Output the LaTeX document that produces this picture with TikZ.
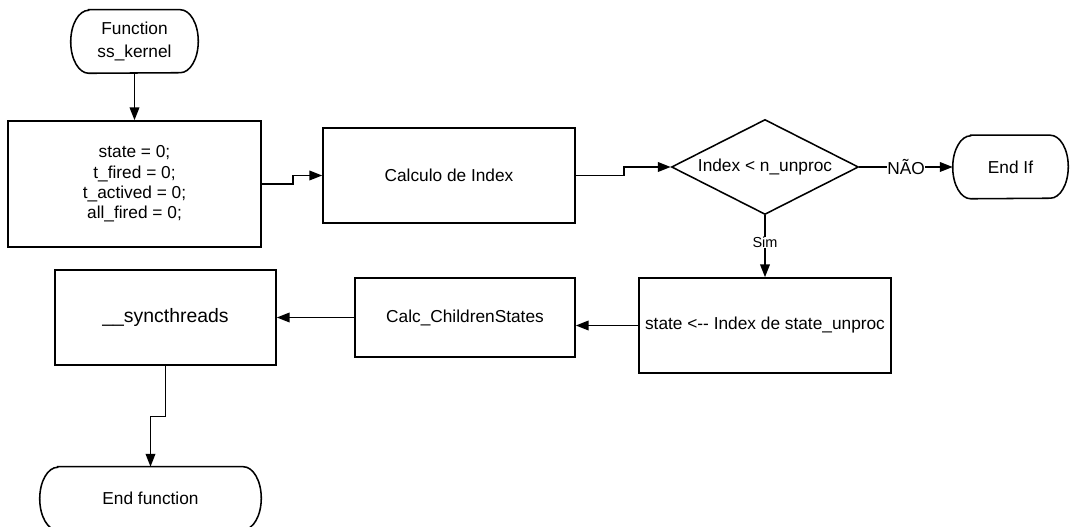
\documentclass[tikz,border=0pt]{standalone}
\usepackage{fontspec}
\setmainfont{Liberation Sans}
\usetikzlibrary{shapes.geometric,arrows.meta}

\tikzstyle{boxed}=[rectangle, draw=black, line width=1.1pt, inner sep=2pt, align=center]
\tikzstyle{decision}=[diamond, draw=black, line width=1.1pt, aspect=1.97, inner sep=0pt, minimum width=4.675cm, minimum height=2.375cm]
\tikzstyle{terminal}=[rectangle, minimum height=1.575cm, align=center]
\tikzstyle{flow}=[line width=1.1pt]
\tikzstyle{answer}=[fill=white, inner sep=0.4pt]

\newcommand{\termline}[1]{%
  \draw[line width=1.1pt] ([xshift=0.45cm]#1.north west) -- ([xshift=-0.45cm]#1.north east)
    arc[start angle=90, end angle=-90, x radius=0.45cm, y radius=0.7875cm]
    -- ([xshift=0.45cm]#1.south west)
    arc[start angle=270, end angle=90, x radius=0.45cm, y radius=0.7875cm] -- cycle;}

\begin{document}
\begin{tikzpicture}[>={Triangle[length=0.32cm,width=0.24cm]}, font=\fontsize{12.3}{14.5}\selectfont]
    \useasboundingbox (0,0) rectangle (26.775,-13.175);

    \node[terminal, minimum width=3.175cm] (start) at (3.3625,-1.0375) {Function\\[2pt]ss\_kernel};
    \termline{start}

    \node[boxed, minimum width=6.325cm, minimum height=3.15cm] (init) at (3.3625,-4.6) {state = 0;\\t\_fired = 0;\\t\_actived = 0;\\all\_fired = 0;}
    edge[<-, flow] (start);

    \node[boxed, minimum width=6.3cm, minimum height=2.375cm] (calc) at (11.225,-4.3875) {Calculo de Index};
    \draw[->, flow] (init.east) -- ++(0.775,0) |- (calc.west);

    \node[decision] (cond) at (19.125,-4.175) {Index < n\_unproc};
    \draw[->, flow] (calc.east) -- ++(1.2,0) |- (cond.west);

    \node[terminal, minimum width=2.875cm] (endif) at (25.2625,-4.175) {End If}
    edge[<-, flow] node[answer] {NÃO} (cond);
    \termline{endif}

    \node[boxed, minimum width=6.3cm, minimum height=2.375cm] (state) at (19.125,-8.1375) {state <-{}- Index de state\_unproc}
    edge[<-, flow] node[answer, pos=0.56, font=\fontsize{10.3}{12}\selectfont] {Sim} (cond);

    \node[boxed, minimum width=5.5cm, minimum height=1.975cm] (children) at (11.625,-7.9375) {Calc\_ChildrenStates};
    \draw[->, flow] (state.west) -- (state.west -| children.east);

    \node[boxed, minimum width=5.525cm, minimum height=2.375cm, font=\fontsize{13.8}{16}\selectfont] (sync) at (4.1375,-7.9375) {\_\_syncthreads}
    edge[<-, flow] (children);

    \node[terminal, minimum width=5.525cm] (endfn) at (3.7625,-12.4625) {End function};
    \termline{endfn}
    \draw[->, flow] (sync.south) -- ++(0,-1.27) -| (endfn.north);
\end{tikzpicture}
\end{document}
